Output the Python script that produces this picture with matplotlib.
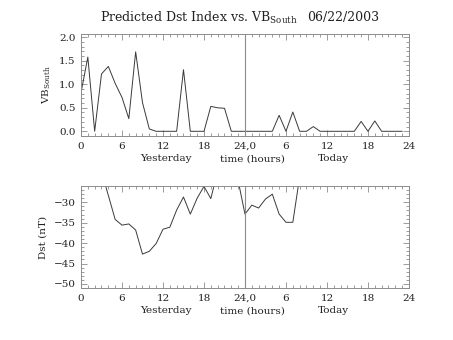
import matplotlib
matplotlib.use("Agg")
import matplotlib.pyplot as plt
from matplotlib.ticker import MultipleLocator

# hours since start of "yesterday" (0..47)
hours_vb = list(range(48))
vb_south = [0.82, 1.58, 0.0, 1.22, 1.38, 1.02, 0.72, 0.27, 1.69, 0.61,
            0.05, 0.0, 0.0, 0.0, 0.0, 1.31, 0.0, 0.0, 0.0, 0.53,
            0.50, 0.49, 0.0, 0.0, 0.0, 0.0, 0.0, 0.0, 0.0, 0.34,
            0.0, 0.41, 0.0, 0.0, 0.10, 0.0, 0.0, 0.0, 0.0, 0.0,
            0.0, 0.21, 0.0, 0.22, 0.0, 0.0, 0.0, 0.0]

hours_dst = list(range(33))
dst = [-20.0, -21.0, -22.0, -22.5, -28.3, -34.2, -35.6, -35.3, -36.8, -42.7,
       -42.0, -40.1, -36.6, -36.1, -31.9, -28.7, -32.9, -29.0, -26.1, -29.1,
       -22.4, -21.0, -20.0, -24.7, -32.9, -30.7, -31.4, -29.2, -28.0, -32.9,
       -34.9, -34.9, -23.8]

tick_pos = [0, 6, 12, 18, 24, 30, 36, 42, 48]
tick_lab = ['0', '6', '12', '18', '24,0', '6', '12', '18', '24']

FONT = 'DejaVu Serif'
plt.rcParams['font.family'] = FONT
plt.rcParams['mathtext.fontset'] = 'custom'
plt.rcParams['mathtext.rm'] = FONT
line_c = '#3a3a3a'
axis_c = '#8c8c8c'
text_c = '#222222'

fig = plt.figure(figsize=(4.53, 3.4), dpi=100)
ax1 = fig.add_axes([0.1788, 0.60, 0.724, 0.30])
ax2 = fig.add_axes([0.1788, 0.153, 0.724, 0.30])


def style(ax):
    ax.set_xlim(0, 48)
    ax.set_xticks(tick_pos)
    ax.set_xticklabels(tick_lab)
    ax.xaxis.set_minor_locator(MultipleLocator(1))
    ax.tick_params(which='both', direction='in', top=True, right=True,
                   color=axis_c, labelcolor=text_c, labelsize=7.5, width=0.6, pad=4)
    ax.tick_params(which='major', length=4)
    ax.tick_params(which='minor', length=2)
    for s in ax.spines.values():
        s.set_color(axis_c)
        s.set_linewidth(0.7)
    ax.axvline(24, color=axis_c, lw=0.8)
    for x, t in [(12.4, 'Yesterday'), (25.1, 'time (hours)'), (37.0, 'Today')]:
        ax.text(x, -0.18, t, transform=ax.get_xaxis_transform(),
                ha='center', va='top', fontsize=7.5, color=text_c)


ax1.plot(hours_vb, vb_south, color=line_c, lw=0.7)
style(ax1)
ax1.set_ylim(-0.1, 2.07)
ax1.set_yticks([0.0, 0.5, 1.0, 1.5, 2.0])
ax1.set_yticklabels(['0.0', '0.5', '1.0', '1.5', '2.0'])
ax1.yaxis.set_minor_locator(MultipleLocator(0.1))
ax1.set_ylabel(r'VB$_{\mathregular{South}}$', fontsize=7.5, labelpad=4, color=text_c)

ax2.plot(hours_dst, dst, color=line_c, lw=0.7)
style(ax2)
ax2.set_ylim(-51, -26)
ax2.set_yticks([-50, -45, -40, -35, -30])
ax2.yaxis.set_minor_locator(MultipleLocator(1))
ax2.set_ylabel('Dst (nT)', fontsize=7.5, labelpad=4, color=text_c)

fig.text(100 / 453, 1 - 18 / 340, r'Predicted Dst Index vs. VB$_{\mathregular{South}}$',
         ha='left', va='center', fontsize=9, color=text_c)
fig.text(307 / 453, 1 - 18 / 340, '06/22/2003', ha='left', va='center',
         fontsize=9, color=text_c)

fig.savefig('out.png', dpi=100)
